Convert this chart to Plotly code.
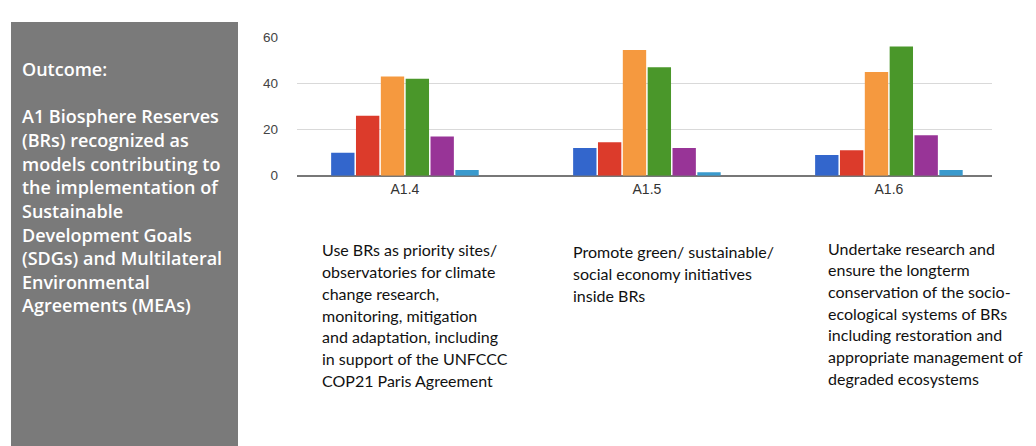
import plotly.graph_objects as go

categories = ["A1.4", "A1.5", "A1.6"]
series_names = ["S1", "S2", "S3", "S4", "S5", "S6"]
series_values = [
    [10, 12, 9],
    [26, 14.5, 11],
    [43, 54.5, 45],
    [42, 47, 56],
    [17, 12, 17.5],
    [2.5, 1.5, 2.5],
]
series_colors = ["#3366cc", "#dc3b2b", "#f5993f", "#4a972a", "#983497", "#3a9acd"]
y_ticks = [0, 20, 40, 60]

box_title = "Outcome:"
box_lines = [
    "A1 Biosphere Reserves",
    "(BRs) recognized as",
    "models contributing to",
    "the implementation of",
    "Sustainable",
    "Development Goals",
    "(SDGs) and Multilateral",
    "Environmental",
    "Agreements (MEAs)",
]
desc_1 = [
    "Use BRs as priority sites/",
    "observatories for climate",
    "change research,",
    "monitoring, mitigation",
    "and adaptation, including",
    "in support of the UNFCCC",
    "COP21 Paris Agreement",
]
desc_2 = [
    "Promote green/ sustainable/",
    "social economy initiatives",
    "inside BRs",
]
desc_3 = [
    "Undertake research and",
    "ensure the longterm",
    "conservation of the socio-",
    "ecological systems of BRs",
    "including restoration and",
    "appropriate management of",
    "degraded ecosystems",
]

W, H = 1036, 446

def py(pix):
    return 1 - pix / H

def px(pix):
    return pix / W

fig = go.Figure()
for name, vals, col in zip(series_names, series_values, series_colors):
    fig.add_trace(go.Bar(x=categories, y=vals, name=name, marker=dict(color=col, line=dict(width=0))))

fig.update_layout(
    width=W, height=H, autosize=False,
    margin=dict(l=0, r=0, t=0, b=0, pad=0, autoexpand=False),
    paper_bgcolor="white", plot_bgcolor="white",
    barmode="group", bargap=0.384, bargroupgap=0.06,
    showlegend=False,
    xaxis=dict(domain=[px(297), px(992)], range=[-0.446, 2.426], showgrid=False, automargin=False,
               tickfont=dict(family="Liberation Sans, Arial", size=14, color="#333"),
               ticks="", showline=False, zeroline=False, ticklabelstandoff=3),
    yaxis=dict(domain=[py(175.7), py(37.3)], range=[0, 60], tickvals=y_ticks, automargin=False,
               gridcolor="#d9d9d9", gridwidth=1, zeroline=True, zerolinecolor="#777", zerolinewidth=1.5,
               tickfont=dict(family="Liberation Sans, Arial", size=13.5, color="#444"),
               ticklabelstandoff=18, showline=False),
)

fig.add_shape(type="rect", xref="paper", yref="paper", x0=px(11), x1=px(238), y0=0, y1=py(22),
              fillcolor="#7a7a7a", line=dict(width=0), layer="below")

def add_line(text, x, y, size, color, family, weight=400):
    fig.add_annotation(text=text, xref="paper", yref="paper",
                       x=px(x), y=py(y), xanchor="left", yanchor="middle", showarrow=False,
                       font=dict(family=family, size=size, color=color, weight=weight), align="left")

add_line(box_title, 19.5, 69, 18, "white", "Open Sans", 600)
for i, t in enumerate(box_lines):
    add_line(t, 19.5, 116.5 + i * 23.6, 18, "white", "Open Sans", 600)

for lines, x0, y0 in [(desc_1, 320, 250), (desc_2, 571, 252), (desc_3, 826, 248)]:
    for i, t in enumerate(lines):
        add_line(t, x0, y0 + i * 21.7, 16, "#111", "Lato")

post = ("document.body.style.margin='0';document.body.style.overflow='hidden';"
        "var d=document.getElementById('{plot_id}');d.style.position='fixed';"
        "d.style.top='0px';d.style.left='0px';")
fig.write_html("out.html", config={"displayModeBar": False}, post_script=post)
